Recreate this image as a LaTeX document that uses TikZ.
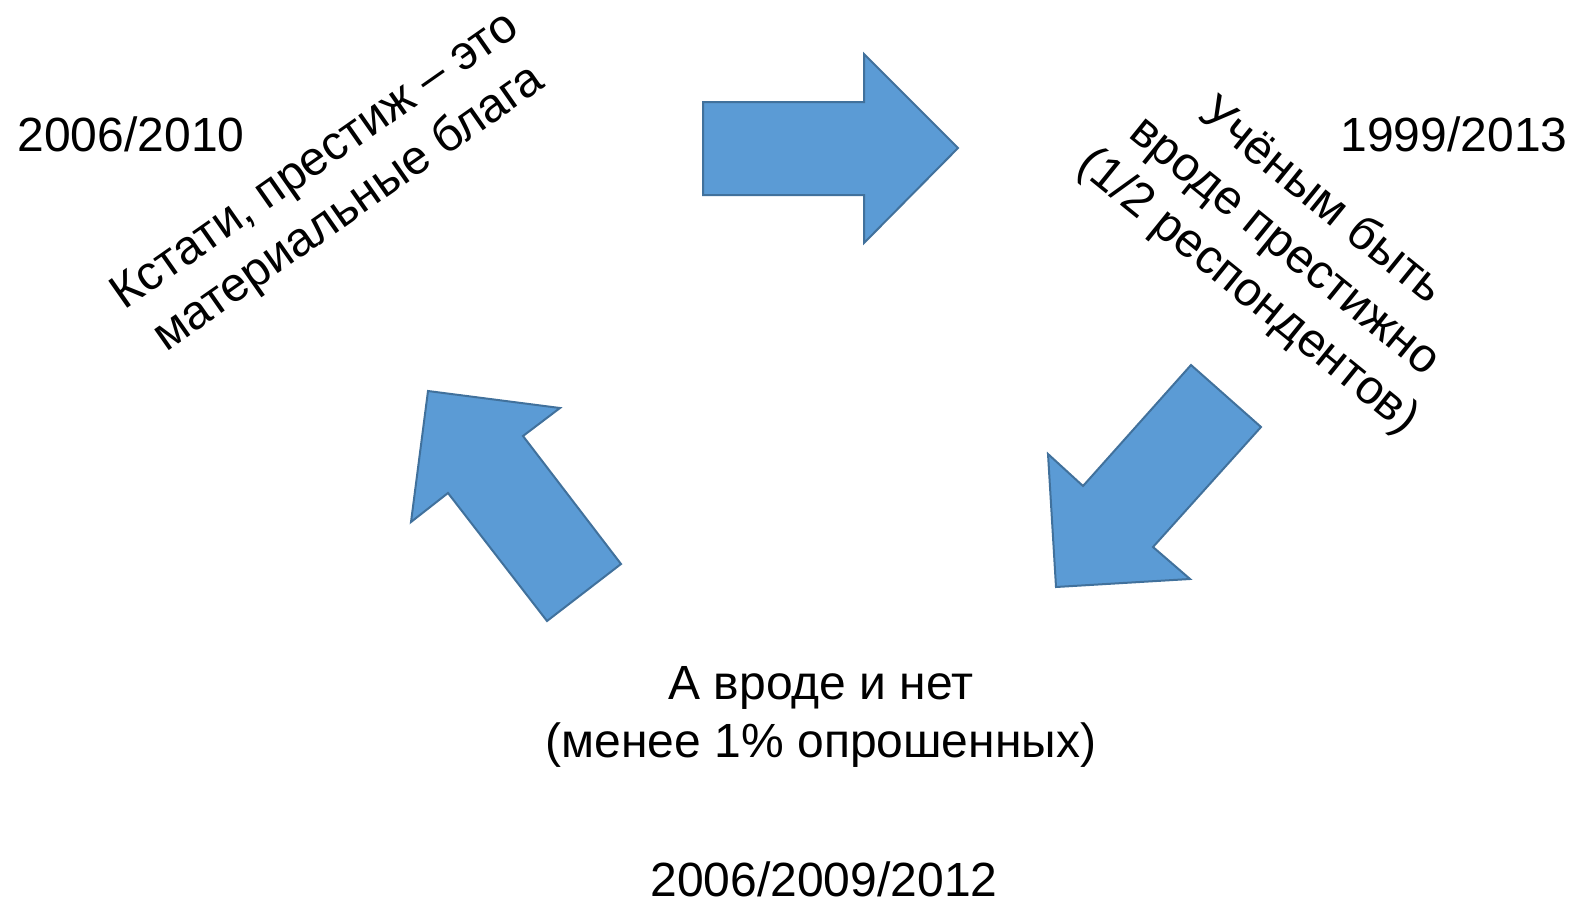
\documentclass[tikz,border=0pt]{standalone}
\usepackage{fontspec}
\setmainfont{Liberation Sans}
\definecolor{arrfill}{RGB}{91,155,213}
\definecolor{arrline}{RGB}{65,113,156}
\begin{document}
\begin{tikzpicture}[x=1pt,y=-1pt,
  bigarrow/.style={fill=arrfill,draw=arrline,line width=2pt,line join=miter},
  lbl/.style={font=\fontsize{48}{58}\selectfont,align=center,inner sep=0pt}]
\useasboundingbox (0,0) rectangle (1576,900);
% right arrow
\draw[bigarrow] (703,102) -- (864,102) -- (864,54) -- (958,148) -- (864,243) -- (864,195) -- (703,195) -- cycle;
% down-left arrow
\draw[bigarrow] (1191,365) -- (1261,427) -- (1153,547) -- (1190,579) -- (1056,587) -- (1048,454) -- (1083,486) -- cycle;
% up-left arrow
\draw[bigarrow] (428,391) -- (560,408) -- (523,436) -- (621,564) -- (547,621) -- (448,493) -- (411,522) -- cycle;
% texts
\node[lbl] (y1) at (131,134) {2006/2010};
\node[lbl] (y2) at (1454,134) {1999/2013};
\node[lbl] (y3) at (824,879) {2006/2009/2012};
\node[lbl] (bot) at (821,717) {А вроде и нет\\(менее 1\% опрошенных)};
\node[lbl,rotate=35] (lt) at (333,186) {Кстати, престиж – это\\материальные блага};
\node[lbl,rotate=-39] (rt) at (1284,247) {Учёным быть\\вроде престижно\\(1/2 респондентов)};
\end{tikzpicture}
\end{document}
